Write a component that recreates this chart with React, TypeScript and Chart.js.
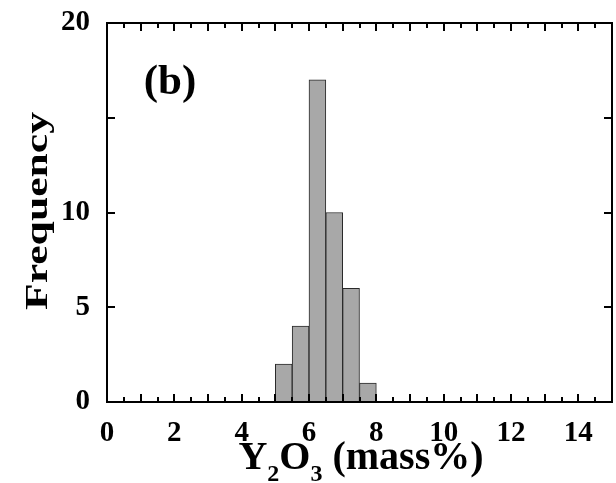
import React, { useEffect, useRef } from 'react';
import { Chart, registerables } from 'chart.js';

Chart.register(...registerables);

// ---- data ----
const binStarts = [5, 5.5, 6, 6.5, 7, 7.5];
const binWidth = 0.5;
const frequencies = [2, 4, 17, 10, 6, 1];
const xTickLabels = [0, 2, 4, 6, 8, 10, 12, 14];
const yTickLabels = [0, 5, 10, 20];
const yTickMarks = [5, 10, 15];
const xRange = [0, 15];
const yRange = [0, 20];
const panelLabel = '(b)';
const yTitle = 'Frequency';
const xTitleParts = [
  { text: 'Y', sub: false },
  { text: '2', sub: true },
  { text: 'O', sub: false },
  { text: '3', sub: true },
  { text: ' (mass%)', sub: false },
];

const FONT = '"Liberation Serif", "Times New Roman", serif';

const framePlugin = {
  id: 'frameAndTitles',
  afterDraw(chart: any) {
    const { ctx, chartArea: a, scales } = chart;
    const xs = scales.x;
    const ys = scales.y;
    ctx.save();
    ctx.strokeStyle = '#000';
    ctx.lineWidth = 2;
    ctx.lineCap = 'butt';
    const line = (x1: number, y1: number, x2: number, y2: number) => {
      ctx.beginPath();
      ctx.moveTo(x1, y1);
      ctx.lineTo(x2, y2);
      ctx.stroke();
    };
    // box
    ctx.strokeRect(a.left, a.top, a.right - a.left, a.bottom - a.top);
    // x tick marks (inward), every half unit
    for (let i = 1; xRange[0] + i * binWidth < xRange[1]; i++) {
      const v = xRange[0] + i * binWidth;
      const px = Math.round(xs.getPixelForValue(v));
      const len = i % 2 === 0 ? 8 : 5;
      line(px, a.bottom, px, a.bottom - len);
      line(px, a.top, px, a.top + len);
    }
    // y tick marks (inward)
    for (const v of yTickMarks) {
      const py = Math.round(ys.getPixelForValue(v));
      line(a.left, py, a.left + 8, py);
      line(a.right, py, a.right - 8, py);
    }
    ctx.fillStyle = '#000';
    // panel label
    ctx.font = `bold 43px ${FONT}`;
    ctx.textAlign = 'center';
    ctx.textBaseline = 'alphabetic';
    ctx.fillText(panelLabel, 170, 94);
    // y title
    ctx.save();
    ctx.translate(47, 211);
    ctx.rotate(-Math.PI / 2);
    ctx.font = `bold 32px ${FONT}`;
    const w = ctx.measureText(yTitle).width;
    ctx.scale(198 / w, 1);
    ctx.textAlign = 'center';
    ctx.fillText(yTitle, 0, 0);
    ctx.restore();
    // x title with subscripts
    const mainFont = `bold 40px ${FONT}`;
    const subFont = `bold 24px ${FONT}`;
    let total = 0;
    const widths = xTitleParts.map((p) => {
      ctx.font = p.sub ? subFont : mainFont;
      const ww = ctx.measureText(p.text).width;
      total += ww;
      return ww;
    });
    let cx = 361 - total / 2;
    ctx.textAlign = 'left';
    xTitleParts.forEach((p, i) => {
      ctx.font = p.sub ? subFont : mainFont;
      ctx.fillText(p.text, cx, p.sub ? 481 : 469);
      cx += widths[i];
    });
    ctx.restore();
  },
};

export default function App() {
  const ref = useRef<HTMLCanvasElement | null>(null);
  useEffect(() => {
    document.body.style.margin = '0';
    const canvas = ref.current;
    if (!canvas) return;
    const data = binStarts.map((s, i) => ({ x: s + binWidth / 2, y: frequencies[i] }));
    const chart = new Chart(canvas, {
      type: 'bar',
      data: {
        datasets: [
          {
            data,
            backgroundColor: '#a8a8a8',
            borderColor: '#2a2a2a',
            borderWidth: 1,
            barPercentage: 1,
            categoryPercentage: 1,
          },
        ],
      },
      options: {
        responsive: false,
        animation: false,
        devicePixelRatio: 1,
        layout: { padding: { left: 0, right: 4, top: 23, bottom: 0 } },
        plugins: { legend: { display: false }, tooltip: { enabled: false } },
        scales: {
          x: {
            type: 'linear',
            min: xRange[0],
            max: xRange[1],
            offset: false,
            grid: { display: false, drawTicks: false },
            border: { display: false },
            afterBuildTicks: (s: any) => {
              s.ticks = xTickLabels.map((v) => ({ value: v }));
            },
            ticks: {
              autoSkip: false,
              maxRotation: 0,
              padding: 14,
              color: '#000',
              font: { family: FONT, size: 29, weight: 'bold' },
            },
            afterFit: (s: any) => {
              s.height = 81;
              s.paddingLeft = 0;
              s.paddingRight = 0;
            },
          },
          y: {
            min: yRange[0],
            max: yRange[1],
            grid: { display: false, drawTicks: false },
            border: { display: false },
            afterBuildTicks: (s: any) => {
              s.ticks = yTickLabels.map((v) => ({ value: v }));
            },
            ticks: {
              autoSkip: false,
              padding: 17,
              color: '#000',
              font: { family: FONT, size: 29, weight: 'bold' },
            },
            afterFit: (s: any) => {
              s.width = 107;
              s.paddingTop = 0;
              s.paddingBottom = 0;
            },
          },
        },
      },
      plugins: [framePlugin],
    } as any);
    return () => chart.destroy();
  }, []);
  return (
    <div style={{ width: 616, height: 483, background: '#fff' }}>
      <canvas ref={ref} width={616} height={483} style={{ display: 'block' }} />
    </div>
  );
}
